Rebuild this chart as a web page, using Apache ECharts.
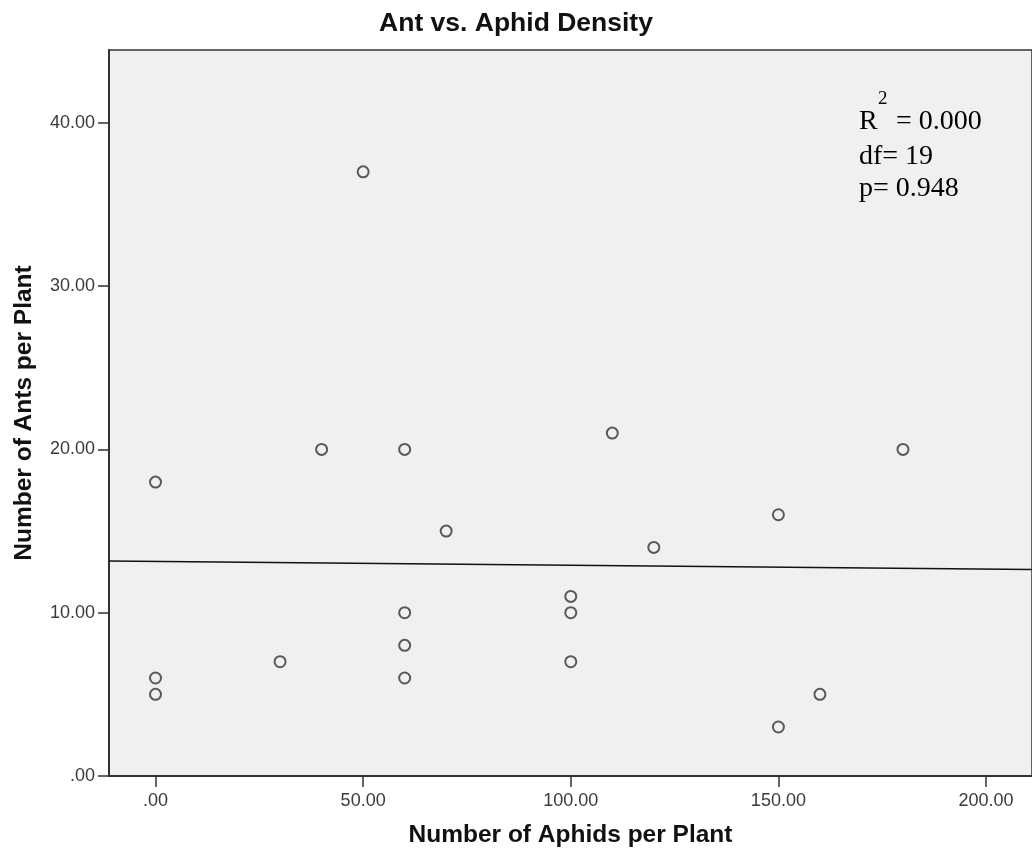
<!DOCTYPE html>
<html>
<head>
<meta charset="utf-8">
<script src="https://cdn.jsdelivr.net/npm/echarts@6/dist/echarts.min.js"></script>
<style>
  html, body { margin: 0; padding: 0; background: #ffffff; }
  #chart { width: 1032px; height: 857px; }
</style>
</head>
<body>
<div id="chart"></div>
<script>
// ---- data ----
const aphids = [0, 0, 0, 30, 40, 50, 60, 60, 60, 60, 70, 100, 100, 100, 110, 120, 150, 150, 160, 180];
const ants   = [18, 6, 5, 7, 20, 37, 20, 10, 8, 6, 15, 11, 10, 7, 21, 14, 16, 3, 5, 20];
const xTicks = [0, 50, 100, 150, 200];
const yTicks = [0, 10, 20, 30, 40];
const titleText = 'Ant vs. Aphid Density';
const xName = 'Number of Aphids per Plant';
const yName = 'Number of Ants per Plant';
const statLines = ['df= 19', 'p= 0.948'];
const r2Text = '= 0.000';

// axis extents
const X_MIN = -11.2, X_MAX = 211.07;
const Y_MIN = 0, Y_MAX = 44.46;

// least-squares fit line from the data
const n = aphids.length;
const mx = aphids.reduce((a, b) => a + b, 0) / n;
const my = ants.reduce((a, b) => a + b, 0) / n;
let sxy = 0, sxx = 0;
for (let i = 0; i < n; i++) { sxy += (aphids[i] - mx) * (ants[i] - my); sxx += (aphids[i] - mx) ** 2; }
const slope = sxy / sxx;
const icpt = my - slope * mx;
const fitLine = [[X_MIN, icpt + slope * X_MIN], [X_MAX, icpt + slope * X_MAX]];

const points = aphids.map((x, i) => [x, ants[i]]);
const fmt = v => (v === 0 ? '.00' : v.toFixed(2));

const chart = echarts.init(document.getElementById('chart'), null, { renderer: 'canvas' });
chart.setOption({
  animation: false,
  backgroundColor: '#ffffff',
  title: {
    text: titleText,
    left: 'center',
    top: 5,
    textStyle: { fontFamily: 'Liberation Sans', fontWeight: 'bold', fontSize: 26.5, color: '#111' }
  },
  grid: {
    left: 109, right: -3, top: 50, bottom: 81,
    show: true, backgroundColor: '#f0f0f0', borderColor: '#333', borderWidth: 1.5
  },
  xAxis: {
    type: 'value', min: X_MIN, max: X_MAX,
    name: xName, nameLocation: 'middle', nameGap: 47,
    nameTextStyle: { fontFamily: 'Liberation Sans', fontWeight: 'bold', fontSize: 24.5, color: '#111' },
    axisLine: { show: true, onZero: false, lineStyle: { color: '#333', width: 2 } },
    axisTick: { show: true, length: 11, customValues: xTicks, lineStyle: { color: '#333', width: 1.5 } },
    axisLabel: { customValues: xTicks, formatter: fmt, margin: 16, fontFamily: 'Liberation Sans', fontSize: 18, color: '#3a3a3a' },
    splitLine: { show: false }
  },
  yAxis: {
    type: 'value', min: Y_MIN, max: Y_MAX,
    name: yName, nameLocation: 'middle', nameGap: 72, nameRotate: 90,
    nameTextStyle: { fontFamily: 'Liberation Sans', fontWeight: 'bold', fontSize: 24.5, color: '#111' },
    axisLine: { show: true, onZero: false, lineStyle: { color: '#333', width: 2 } },
    axisTick: { show: true, length: 11, customValues: yTicks, lineStyle: { color: '#333', width: 1.5 } },
    axisLabel: { customValues: yTicks, formatter: fmt, margin: 14, fontFamily: 'Liberation Sans', fontSize: 18, color: '#3a3a3a' },
    splitLine: { show: false }
  },
  series: [
    {
      type: 'line', data: fitLine, symbol: 'none', silent: true,
      lineStyle: { color: '#111', width: 1.5 }, z: 2
    },
    {
      type: 'scatter', data: points, symbol: 'circle', symbolSize: 11,
      itemStyle: { color: 'rgba(0,0,0,0)', borderColor: '#333', borderWidth: 2 }, z: 3
    }
  ],
  graphic: [
    { type: 'text', left: 859, top: 108, style: { text: 'R', font: '28px "Liberation Serif"', fill: '#000', verticalAlign: 'middle' } },
    { type: 'text', left: 878, top: 90, style: { text: '2', font: '19px "Liberation Serif"', fill: '#000', verticalAlign: 'middle' } },
    { type: 'text', left: 896, top: 108, style: { text: r2Text, font: '28px "Liberation Serif"', fill: '#000', verticalAlign: 'middle' } },
    { type: 'text', left: 859, top: 143, style: { text: statLines[0], font: '28px "Liberation Serif"', fill: '#000', verticalAlign: 'middle' } },
    { type: 'text', left: 859, top: 175, style: { text: statLines[1], font: '28px "Liberation Serif"', fill: '#000', verticalAlign: 'middle' } }
  ]
});
</script>
</body>
</html>
